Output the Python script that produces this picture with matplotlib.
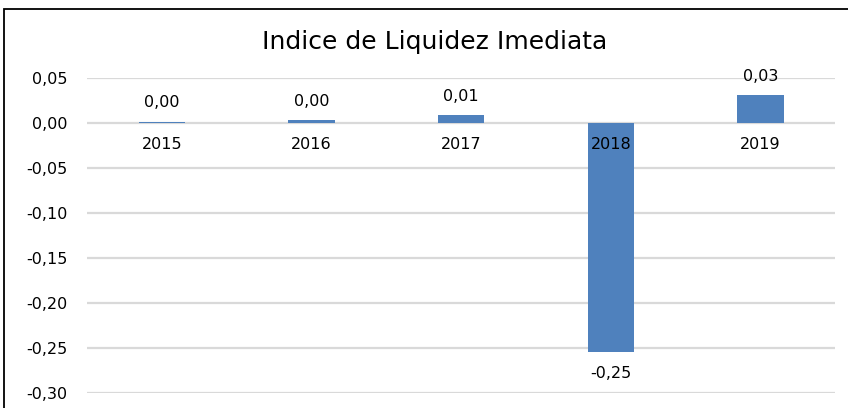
import matplotlib.pyplot as plt
from matplotlib.patches import Rectangle

# -----------------------------
# Data
# -----------------------------
years = ["2015", "2016", "2017", "2018", "2019"]
values = [0.0015, 0.0035, 0.009, -0.254, 0.031]
value_labels = ["0,00", "0,00", "0,01", "-0,25", "0,03"]
y_ticks = [0.05, 0.00, -0.05, -0.10, -0.15, -0.20, -0.25, -0.30]

plt.rcParams["font.family"] = ["DejaVu Sans"]

fig = plt.figure(figsize=(8.48, 4.08), dpi=100)
ax = fig.add_axes([0.1026, 0.0368, 0.8824, 0.7722])

x = list(range(len(years)))
ax.bar(x, values, width=0.31, color="#4F81BD", zorder=3)

ax.set_xlim(-0.5, len(years) - 0.5)
ax.set_ylim(-0.30, 0.05)
ax.set_yticks(y_ticks)
ax.set_yticklabels([f"{t:.2f}".replace(".", ",") for t in y_ticks], fontsize=11.5)
ax.tick_params(axis="y", length=0, pad=14)
ax.set_xticks([])
ax.grid(axis="y", color="#D9D9D9", linewidth=1.6, zorder=0)
for s in ax.spines.values():
    s.set_visible(False)

# category labels just under the zero line
for xi, yr in zip(x, years):
    ax.text(xi, -0.0155, yr, ha="center", va="top", fontsize=11.5, zorder=4)

# value labels
for xi, v, lab in zip(x, values, value_labels):
    if v >= 0:
        ax.text(xi, v + 0.0125, lab, ha="center", va="bottom", fontsize=11.5)
    else:
        ax.text(xi, v - 0.016, lab, ha="center", va="top", fontsize=11.5)

fig.text(0.512, 0.896, "Indice de Liquidez Imediata", ha="center", va="center",
         fontsize=18)

# outer chart frame
fig.patches.append(Rectangle((0.0047, -0.02), 1.1, 0.998, transform=fig.transFigure,
                             fill=False, edgecolor="black", linewidth=1.3))

fig.savefig("out.png", dpi=100)
